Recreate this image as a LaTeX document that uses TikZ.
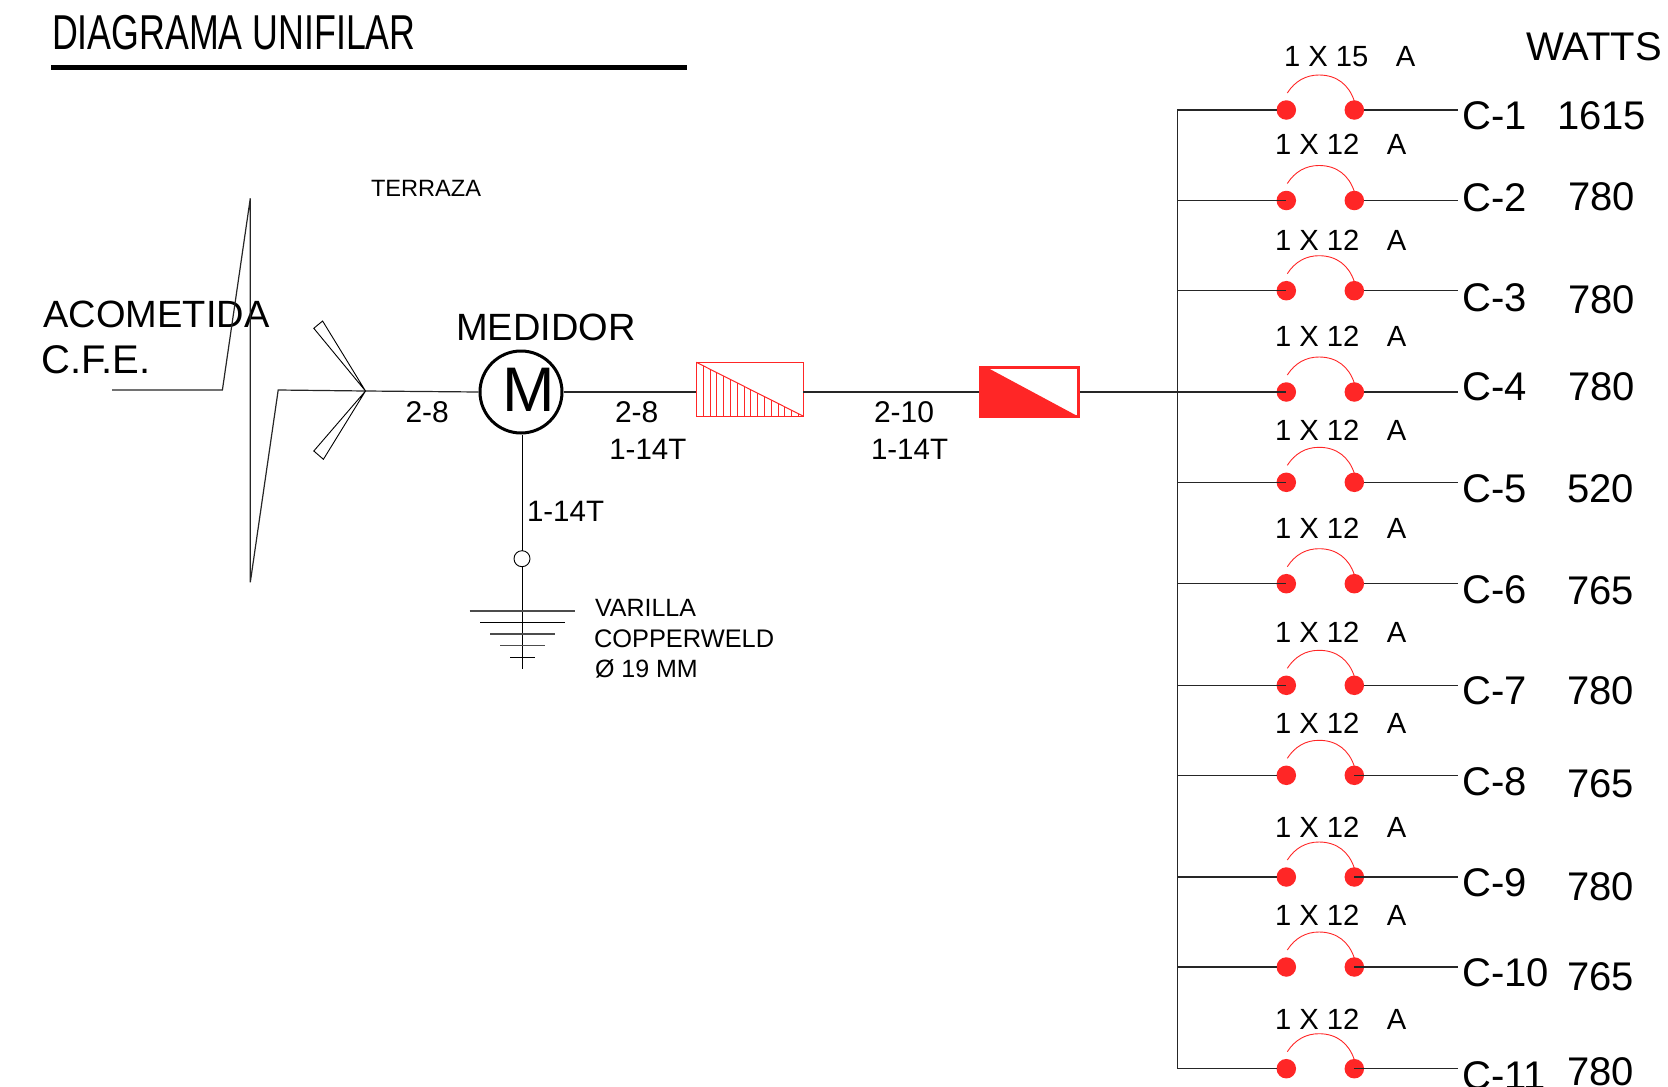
\documentclass[tikz,border=0pt]{standalone}
\usepackage{fontspec}
\setmainfont{Liberation Sans}
\newfontfamily\titlefont[FakeStretch=0.73]{Liberation Sans}
\definecolor{cred}{HTML}{FF2626}
\newcommand{\fs}[1]{\fontsize{#1}{#1}\selectfont}
\tikzset{
  lbl/.style={anchor=base west,inner sep=0pt,outer sep=0pt,text=black},
  wire/.style={draw=black!85,line width=1.2pt},
  thin wire/.style={draw=black,line width=0.9pt},
  reddot/.style={circle,fill=cred,draw=none,minimum size=19.5pt,inner sep=0pt,outer sep=0pt},
  redarc/.style={draw=cred,line width=0.9pt}
}
\begin{document}
\begin{tikzpicture}[x=1pt,y=-1pt]
\useasboundingbox (0,0) rectangle (1668,1087);
% title
\node[lbl,font=\titlefont\fs{49}] (title) at (52,49.5) {DIAGRAMA UNIFILAR};
\coordinate (tl1) at (51,67.5);
\coordinate (tl2) at (687,67.5);
\draw[line width=4.5pt,black] (tl1) -- (tl2);
\node[lbl,font=\fs{23.6}] (terraza) at (371,196) {TERRAZA};
\node[lbl,font=\fs{38}] (acom) at (43.5,327) {ACOMETIDA};
\node[lbl,font=\fs{40}] (cfe) at (41.5,373) {C.F.E.};
\node[lbl,font=\fs{38}] (medidor) at (456,340.7) {MEDIDOR};
% service entrance
\coordinate (a1) at (112,390);
\coordinate (a2) at (222.4,390);
\coordinate (a3) at (250.3,198.3);
\coordinate (a4) at (250.3,582.3);
\coordinate (a5) at (278.2,390);
\coordinate (tip) at (365.5,391);
\node[circle,draw=black,line width=3pt,minimum size=82pt,inner sep=0pt,outer sep=1.5pt] (meter) at (521,392) {};
\node[anchor=base,inner sep=0pt,font=\fs{63}] (meterM) at (528.5,411.7) {M};
\draw[wire,line join=miter] (a1) -- (a2) -- (a3) -- (a4) -- (a5) -- (tip) -- (meter.west);
\draw[thin wire] (tip) -- (322.6,321) -- (313.8,328.3) -- cycle;
\draw[thin wire] (tip) -- (323.4,459.3) -- (313.8,451) -- cycle;
% boxes
\node[rectangle,draw=cred,line width=1pt,minimum width=106.7pt,minimum height=53.7pt,inner sep=0pt,outer sep=0pt] (box1) at (749.65,389.15) {};
\draw[draw=cred,line width=1pt] (696.3,362.3) -- (803,416);
\foreach \k in {1,...,15}{
  \draw[draw=cred,line width=0.8pt] (696.3+6.8*\k,362.3+3.42*\k) -- (696.3+6.8*\k,416);
}
\node[rectangle,draw=cred,line width=3pt,minimum width=98pt,minimum height=49pt,inner sep=0pt,outer sep=1.5pt] (box2) at (1029.3,392) {};
\fill[cred] (980.3,367.5) -- (987,367.5) -- (1078.3,416.5) -- (980.3,416.5) -- cycle;
\draw[wire] (meter.east) -- (meter.east -| box1.west);
\draw[wire] (meter.east -| box1.east) -- (meter.east -| box2.west);
% ground
\node[circle,draw=black,line width=0.9pt,minimum size=16pt,inner sep=0pt,outer sep=0pt] (gcirc) at (522,558.7) {};
\coordinate (gend) at (522,669);
\draw[thin wire] (meter.south -| gcirc.north) -- (gcirc.north);
\draw[thin wire] (gcirc.south) -- (gend);
\draw[draw=black!70,line width=1.3pt] (469.5,611) -- (575,611);
\draw[draw=black,line width=1pt] (480,622.3) -- (565,622.3);
\draw[draw=black!70,line width=1.2pt] (490,634) -- (555,634);
\draw[draw=black!70,line width=1.2pt] (500,645.7) -- (545,645.7);
\draw[draw=black,line width=1pt] (510,657.3) -- (534.6,657.3);
% wire labels
\node[lbl,font=\fs{30}] (l28a) at (405.5,422.3) {2-8};
\node[lbl,font=\fs{30}] (l28b) at (615,422.3) {2-8};
\node[lbl,font=\fs{30}] (l210) at (874,422.3) {2-10};
\node[lbl,font=\fs{29.5}] (l14a) at (609.3,459.5) {1-14T};
\node[lbl,font=\fs{29.5}] (l14b) at (871,459.5) {1-14T};
\node[lbl,font=\fs{29.5}] (l14c) at (527,521.7) {1-14T};
\node[lbl,font=\fs{25}] (var) at (595,616) {VARILLA};
\node[lbl,font=\fs{25.4}] (cop) at (594,647.5) {COPPERWELD};
\node[lbl,font=\fs{25}] (dia) at (595,677.5) {Ø 19 MM};
\node[lbl,font=\fs{40}] (watts) at (1526.5,60) {WATTS};
% branch circuits: index/y/breaker base/breaker x/amps/circuit base/watts/watts x/watts base/left anchor/right anchor
\foreach \i/\y/\bb/\bx/\amp/\cb/\w/\wx/\wb/\la/\ra in {
 1/110/66.7/1284/15/129/1615/1557/129/west/east,
 2/200.5/154/1275/12/211/780/1568/210.7/center/east,
 3/290.7/250.7/1275/12/311/780/1568/313.5/center/east,
 4/392/346.7/1275/12/400.7/780/1568/400/center/east,
 5/482.3/440.3/1275/12/502.5/520/1567/502.7/center/east,
 6/583.7/538.3/1275/12/603.3/765/1567/604/center/east,
 7/685.3/642.7/1275/12/704.3/780/1567/704.3/center/east,
 8/775.3/733.3/1275/12/795/765/1567/797.5/west/center,
 9/877/837.7/1275/12/896.5/780/1567/900/west/center,
 10/967/925/1275/12/986.5/765/1567/990/west/center,
 11/1068.7/1029/1275/12/1089/780/1567/1085/west/center}{
  \node[reddot] (dotL\i) at (1286.3,\y) {};
  \node[reddot] (dotR\i) at (1354.3,\y) {};
  \coordinate (bus\i) at (1177.3,\y);
  \coordinate (end\i) at (1457.7,\y);
  \draw[redarc] (1287.3,\y-17) .. controls (1295,\y-29) and (1306,\y-35) .. (1319,\y-35)
     .. controls (1337,\y-35) and (1349,\y-25) .. (1354.3,\y-9);
  \ifnum\i=4\relax
    \draw[wire] (meter.east -| box2.east) -- (dotL\i.\la);
  \else
    \draw[wire] (bus\i) -- (dotL\i.\la);
  \fi
  \draw[wire] (dotR\i.\ra) -- (end\i);
  \node[lbl,font=\fs{29.2}] (brk\i) at (\bx,\bb) {1 X \amp\hspace{27.5pt}A};
  \node[lbl,font=\fs{40}] (cname\i) at (1462.5,\cb) {C-\i};
  \node[lbl,font=\fs{40}] (watt\i) at (\wx,\wb) {\w};
}
\draw[wire] (1177.3,110) -- (1177.3,1068.7);
\end{tikzpicture}
\end{document}
